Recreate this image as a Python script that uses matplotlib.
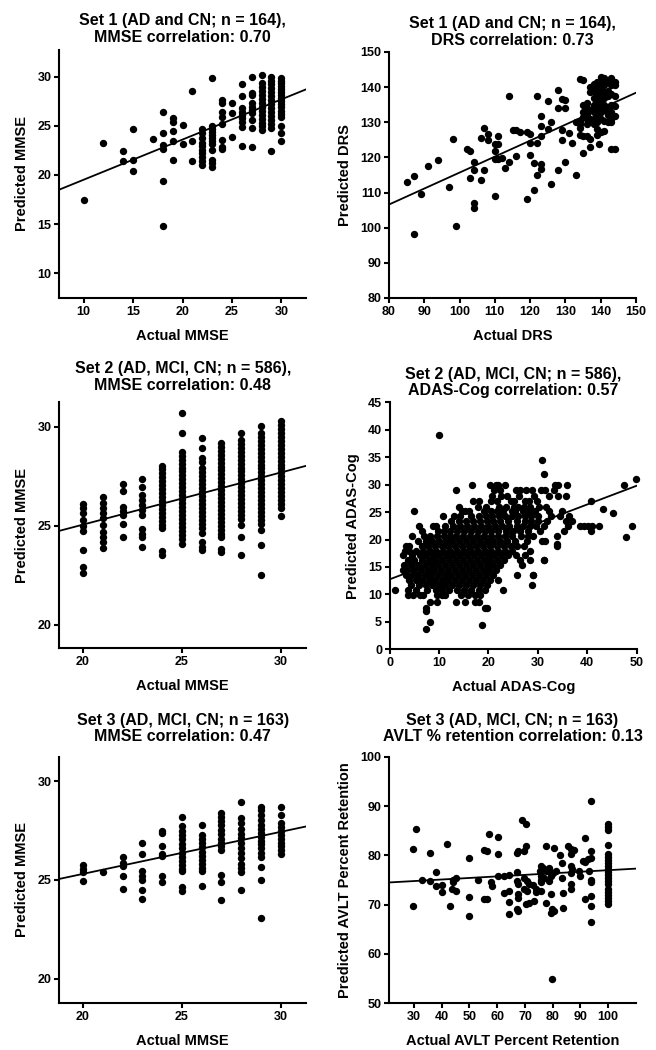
import matplotlib
matplotlib.use("Agg")
import matplotlib.pyplot as plt
import numpy as np

plt.rcParams['font.family'] = ['Liberation Sans', 'DejaVu Sans']
plt.rcParams['font.weight'] = 'bold'

# ---- Set 1 MMSE (actual is integer, predicted values per column)
s1_mmse_actual = [10, 12, 14, 15, 17, 18, 19, 20, 21, 22, 23, 24, 25, 26, 27, 28, 29, 30]
s1_mmse_pred = [
    [17.5],
    [23.2],
    [22.4, 21.4],
    [24.7, 21.5, 20.4],
    [23.7],
    [26.4, 24.3, 23.05, 22.6, 19.35, 14.85],
    [25.8, 25.4, 24.5, 23.5, 21.5],
    [25.1, 23.15],
    [28.5, 23.5, 21.4],
    [24.7, 24.3, 23.8, 23.3, 22.9, 22.55, 22.2, 21.85, 21.45, 21.0],
    [29.9, 25.0, 24.7, 24.4, 24.1, 23.8, 23.5, 23.1, 22.5, 21.5, 21.2, 20.85],
    [27.6, 27.3, 26.4, 25.9, 25.2, 23.6, 22.8, 22.6],
    [27.35, 26.3, 23.9],
    [29.2, 28.0, 26.8, 26.45, 26.1, 25.8, 25.4, 24.9, 22.95],
    [30.0, 28.3, 28.15, 27.3, 26.95, 26.6, 26.25, 25.6, 24.75, 22.8],
    [30.15, 29.3, 28.9, 28.5, 28.1, 27.7, 27.3, 26.9, 26.5, 26.1, 25.7, 25.3, 24.95, 24.6],
    [30.0, 29.6, 29.2, 28.8, 28.4, 28.0, 27.6, 27.2, 26.8, 26.4, 26.0, 25.6, 25.2, 24.8, 22.4],
    [29.9, 29.6, 29.3, 29.0, 28.7, 28.4, 28.1, 27.8, 27.5, 27.2, 26.9, 26.5, 26.2, 25.9, 25.0, 24.3, 23.5],
]
s1_mmse_fit = (0.408, 15.44)

# ---- Set 1 DRS: scattered points plus the dense cluster at high scores
s1_drs_actual = [85, 87, 87, 89, 91, 94, 97, 98, 99, 102, 103, 103, 104, 104, 104, 104,
                 106, 106, 107, 108, 108, 107, 110, 110, 110, 110, 111, 111, 111, 112,
                 114, 113, 114, 115, 116, 117, 116, 119, 120, 119, 120, 120, 121, 122,
                 122, 123, 123, 123, 122, 123, 123, 121, 125, 125, 126, 126, 128, 128,
                 129, 130, 130, 129, 129, 128, 130, 131, 132, 133, 133, 134, 135, 135,
                 137, 137, 139.5, 140, 139, 143, 144]
s1_drs_pred = [113.0, 114.8, 98.3, 109.5, 117.6, 119.3, 111.6, 125.2, 100.4, 122.3, 121.7,
               114.2, 118.6, 116.5, 107.0, 105.5, 125.6, 113.7, 128.3, 126.8, 125.0, 116.5,
               123.9, 121.8, 119.6, 109.1, 126.2, 123.9, 119.6, 119.9, 137.4, 117.0, 118.7,
               127.7, 127.7, 127.2, 120.3, 127.2, 126.8, 108.3, 124.1, 120.6, 118.4, 124.1,
               137.4, 131.7, 129.0, 126.0, 114.9, 118.0, 116.7, 110.8, 136.0, 128.1, 130.0,
               112.5, 139.3, 134.1, 136.5, 136.2, 134.1, 127.7, 124.9, 116.5, 118.7, 127.0,
               124.1, 114.9, 130.1, 142.3, 141.9, 121.4, 125.3, 123.0, 123.9, 127.2, 126.3,
               122.5, 122.5]
s1_drs_cluster_actual = [134, 135, 136, 137, 138, 139, 140, 141, 142, 143, 144]
s1_drs_cluster_pred = [
    [130.5, 129.5, 128.5, 126.5],
    [135.0, 133.0, 131.5, 126.0],
    [135.5, 134.0, 132.0, 131.0, 129.5, 126.0],
    [140.0, 138.5, 133.5, 131.0],
    [141.0, 139.0, 137.0, 135.0, 133.0, 131.0, 129.5],
    [141.5, 140.0, 138.0, 136.0, 134.0, 132.0, 130.0, 128.0],
    [143.0, 141.5, 139.5, 138.0, 136.5, 134.5, 133.0, 131.0],
    [142.5, 140.5, 138.5, 137.0, 135.0, 133.5, 130.5, 127.5],
    [141.8, 139.0, 137.5, 134.0, 132.0, 130.0],
    [142.5, 140.5, 138.0, 135.0, 133.0, 131.0, 130.0],
    [141.5, 140.5, 137.5, 134.5, 131.8],
]
s1_drs_fit = (0.4545, 70.24)

# ---- Set 2 MMSE
s2_mmse_actual = [20, 21, 22, 23, 24, 25, 26, 27, 28, 29, 30]
s2_mmse_pred = [
    [26.1, 25.9, 25.65, 25.3, 25.0, 24.75, 23.8, 22.9, 22.6],
    [26.45, 26.15, 25.9, 25.65, 25.4, 25.05, 24.7, 24.45, 24.2, 23.9],
    [27.1, 26.75, 25.95, 25.75, 25.55, 25.1, 24.45],
    [27.35, 26.95, 26.55, 26.3, 26.05, 25.8, 25.55, 24.85, 24.6, 24.45, 23.95],
    [28.05, 27.85, 27.65, 27.45, 27.25, 27.05, 26.85, 26.65, 26.45, 26.25, 26.05, 25.85,
     25.65, 25.45, 25.25, 25.05, 24.9, 23.7, 23.5],
    [30.7, 29.7, 28.75, 28.55, 28.35, 28.15, 27.95, 27.75, 27.55, 27.35, 27.15, 26.95,
     26.75, 26.55, 26.35, 26.15, 25.95, 25.75, 25.55, 25.35, 25.15, 24.95, 24.75, 24.55,
     24.35, 24.1],
    [29.45, 28.95, 28.45, 28.25, 27.9, 27.7, 27.5, 27.3, 27.1, 26.9, 26.7, 26.5, 26.3,
     26.1, 25.9, 25.7, 25.5, 25.3, 25.1, 24.9, 24.65, 24.2, 23.95, 23.8],
    [29.2, 29.0, 28.8, 28.6, 28.4, 28.2, 28.0, 27.8, 27.6, 27.4, 27.2, 27.0, 26.8, 26.6,
     26.4, 26.2, 26.0, 25.8, 25.6, 25.4, 25.2, 25.0, 24.8, 24.6, 24.45, 23.85, 23.65],
    [29.7, 29.35, 29.15, 28.95, 28.75, 28.55, 28.35, 28.15, 27.95, 27.75, 27.55, 27.35,
     27.15, 26.95, 26.75, 26.55, 26.35, 26.15, 25.95, 25.75, 25.55, 25.35, 25.05, 24.45,
     23.5],
    [30.05, 29.7, 29.5, 29.3, 29.1, 28.9, 28.7, 28.5, 28.3, 28.1, 27.9, 27.7, 27.5, 27.3,
     27.1, 26.9, 26.7, 26.5, 26.3, 26.1, 25.9, 25.7, 25.5, 25.3, 25.1, 24.8, 24.05, 22.5],
    [30.3, 30.1, 29.9, 29.7, 29.5, 29.3, 29.1, 28.9, 28.7, 28.5, 28.3, 28.1, 27.9, 27.7,
     27.5, 27.3, 27.1, 26.9, 26.7, 26.5, 26.3, 26.1, 25.9, 25.5],
]
s2_mmse_fit = (0.2635, 19.79)

# ---- Set 2 ADAS-Cog, stored as rows of predicted value with actual scores
s2_adas_rows = [30.0, 29.0, 28.0, 27.0, 26.0, 25.2, 24.3, 23.3, 22.5, 21.6, 20.7, 19.8,
                18.9, 18.0, 17.1, 16.2, 15.3, 14.4, 13.5, 12.6, 11.7, 10.8, 9.9, 8.6, 7.6]
s2_adas_actual = [
    [16.6, 20.3, 21.5, 22.0, 23.3, 33.4, 34.0, 35.8],
    [13.5, 21.2, 22.3, 25.5, 26.4, 27.6, 28.8, 30.6, 31.5, 33.3],
    [20.8, 22.5, 23.7, 26.2, 29.2, 32.2, 34.0, 35.6],
    [16.8, 18.0, 20.5, 21.8, 24.5, 25.1, 27.4, 28.1, 29.8, 40.8],
    [14.0, 17.9, 19.5, 22.2, 23.6, 25.1, 26.0, 27.2, 28.5, 30.2, 31.7],
    [5.0, 14.6, 15.3, 16.0, 19.0, 20.6, 21.8, 23.0, 24.8, 25.3, 27.0, 28.2, 29.5, 32.3, 34.8],
    [10.8, 13.0, 14.3, 16.5, 18.1, 19.4, 20.7, 22.1, 23.4, 24.7, 26.0, 27.3, 28.6, 30.0,
     32.6, 34.5, 36.2],
    [12.4, 14.0, 15.5, 16.8, 18.2, 19.6, 21.0, 22.4, 24.0, 25.8, 27.3, 28.6, 30.0, 31.8,
     35.7, 37.0],
    [6.0, 8.8, 9.3, 11.2, 12.8, 14.2, 15.6, 17.0, 18.5, 19.9, 21.3, 22.7, 24.2, 25.7, 27.0,
     28.5, 29.6, 31.2, 36.0, 38.5, 39.3, 40.2, 41.0, 42.3],
    [6.5, 9.8, 11.0, 12.3, 13.6, 15.0, 16.4, 17.8, 19.2, 20.6, 22.0, 23.5, 25.0, 26.4,
     28.0, 30.5, 35.2, 40.8],
    [4.5, 7.0, 8.2, 9.6, 10.9, 12.2, 13.5, 14.9, 16.3, 17.7, 19.1, 20.5, 21.9, 23.3, 24.7,
     26.5, 28.0, 29.0, 33.9],
    [5.8, 7.3, 8.6, 9.9, 11.3, 12.6, 14.0, 15.4, 16.8, 18.2, 19.6, 21.0, 22.4, 23.8, 25.3,
     27.8, 30.8, 31.5],
    [3.2, 4.0, 6.5, 7.8, 9.1, 10.5, 11.9, 13.3, 14.7, 16.1, 17.5, 18.9, 20.3, 21.7, 23.1,
     24.5, 25.8, 27.1, 33.9],
    [3.0, 3.9, 5.3, 6.8, 8.1, 9.4, 10.8, 12.2, 13.6, 15.0, 16.4, 17.8, 19.2, 20.6, 22.0,
     23.4, 24.8, 28.5],
    [2.7, 4.5, 6.1, 7.4, 8.7, 10.0, 11.4, 12.8, 14.2, 15.6, 17.0, 18.4, 19.8, 21.2, 22.6,
     24.0, 25.5, 27.4],
    [3.8, 5.0, 6.6, 7.9, 9.2, 10.6, 12.0, 13.4, 14.8, 16.2, 17.6, 19.0, 20.4, 21.8, 23.2,
     26.4, 28.3, 31.2],
    [2.8, 4.4, 5.7, 7.2, 8.5, 9.8, 11.2, 12.6, 14.0, 15.4, 16.8, 18.2, 19.6, 21.0, 22.4,
     26.8],
    [2.6, 3.6, 5.0, 6.4, 7.7, 9.0, 10.4, 11.8, 13.2, 14.6, 16.0, 17.4, 18.8, 20.2, 21.6],
    [3.3, 4.6, 5.8, 7.1, 8.4, 9.7, 11.1, 12.5, 13.9, 15.3, 16.7, 18.1, 19.5, 20.9, 25.8,
     29.1],
    [3.9, 5.3, 6.6, 7.9, 9.2, 10.5, 11.9, 13.3, 14.7, 16.1, 17.5, 18.9, 20.3, 22.0],
    [4.4, 6.0, 7.4, 8.6, 9.9, 11.2, 12.6, 14.0, 15.4, 16.8, 18.2, 19.6, 28.8],
    [1.0, 3.8, 5.3, 7.5, 9.3, 10.6, 12.0, 13.6, 15.0, 16.4, 18.0, 19.2, 23.0],
    [3.7, 4.7, 6.1, 6.8, 9.5, 10.5, 11.1, 14.5, 15.8, 17.2, 18.3],
    [8.1, 9.5, 13.5, 15.2, 17.2, 18.1],
    [7.3, 19.3, 19.6],
]
s2_adas_extra_actual = [10.0, 30.8, 31.2, 47.5, 49.8, 49.1, 47.8, 43.2, 45.2, 33.9,
                        31.2, 29.0, 7.3, 8.2, 7.3, 18.6]
s2_adas_extra_pred = [39.0, 34.5, 31.9, 30.0, 31.1, 22.4, 20.4, 25.5, 24.9, 19.2,
                      16.3, 13.6, 3.7, 5.0, 6.9, 4.5]
s2_adas_fit = (0.341, 12.75)

# ---- Set 3 MMSE
s3_mmse_actual = [20, 21, 22, 23, 24, 25, 26, 27, 28, 29, 30]
s3_mmse_pred = [
    [25.75, 25.55, 25.4, 24.95],
    [25.4],
    [26.15, 25.85, 25.7, 25.2, 24.55],
    [26.9, 26.3, 25.45, 25.2, 25.0, 24.5, 24.05],
    [27.5, 27.4, 26.7, 26.3, 26.2, 25.2, 24.9],
    [28.2, 27.75, 27.5, 27.3, 27.1, 26.8, 26.6, 26.35, 26.15, 25.95, 25.75, 25.55, 25.45,
     24.65, 24.45],
    [27.8, 27.3, 27.1, 26.9, 26.65, 26.4, 26.2, 26.0, 25.8, 25.6, 25.45, 24.7],
    [28.4, 28.2, 28.0, 27.8, 27.55, 27.35, 27.1, 26.9, 26.7, 26.5, 25.25, 24.9, 24.0],
    [28.95, 28.15, 27.9, 27.6, 27.35, 27.15, 26.9, 26.6, 26.35, 26.1, 25.8, 25.6, 25.4,
     24.5],
    [28.7, 28.55, 28.3, 28.05, 27.8, 27.6, 27.4, 27.2, 27.0, 26.8, 26.6, 26.35, 26.15,
     25.65, 25.0, 23.05],
    [28.7, 28.3, 27.9, 27.7, 27.5, 27.3, 27.1, 26.9, 26.7, 26.5, 26.3],
]
s3_mmse_fit = (0.213, 21.05)

# ---- Set 3 AVLT percent retention
s3_avlt_actual = [29.6, 30.8, 29.6, 32.8, 35.9, 35.9, 37.8, 37.8, 40.0, 40.0, 42.0, 43.0,
                  44.1, 45.0, 44.1, 43.8, 45.0, 50.0, 50.0, 50.0, 53.1, 55.2, 56.4, 55.2,
                  56.4, 57.2, 57.9, 58.2, 60.2, 60.2, 60.2, 62.4, 64.2, 62.4, 64.2, 64.2,
                  64.4, 67.2, 67.4, 67.2, 67.2, 67.4, 67.4, 67.4, 67.2, 67.4, 69.0, 70.2,
                  69.6, 70.4, 69.6, 70.8, 69.6, 70.8, 71.4, 70.2, 71.4, 72.8, 73.8, 73.4,
                  73.8, 75.6, 75.6, 75.3, 75.6, 75.6, 75.6, 77.4, 77.4, 76.6, 77.8, 78.7,
                  79.3, 80.0, 77.0, 78.5, 79.5, 79.8, 79.5, 80.4, 79.8, 80.6, 81.0, 82.5,
                  83.4, 83.6, 83.6, 83.4, 85.4, 86.4, 86.7, 86.7, 87.0, 86.7, 86.4, 86.7,
                  87.6, 89.4, 90.0, 90.8, 91.8, 92.7, 91.8, 91.8, 93.7, 93.7, 93.7, 93.0,
                  93.7, 93.7, 93.7, 93.7, 93.7]
s3_avlt_pred = [81.35, 85.4, 69.7, 75.0, 80.5, 74.8, 76.7, 73.8, 73.9, 72.6, 82.4, 69.7,
                75.1, 75.5, 74.6, 73.1, 72.8, 79.5, 71.6, 67.7, 75.0, 81.1, 80.9, 71.2,
                71.2, 84.3, 74.6, 73.8, 83.7, 80.2, 75.9, 75.9, 76.1, 72.4, 72.8, 70.5,
                68.2, 80.5, 80.9, 76.6, 74.8, 74.1, 72.1, 71.4, 69.1, 68.7, 87.2, 86.3,
                80.9, 81.9, 75.5, 74.8, 73.1, 72.8, 74.1, 70.1, 70.4, 73.9, 73.2, 70.7,
                72.5, 72.8, 77.8, 76.8, 75.8, 75.0, 74.5, 81.8, 70.4, 77.5, 76.9, 77.5,
                75.8, 76.5, 75.5, 74.8, 72.1, 69.1, 68.4, 68.7, 55.0, 81.4, 76.8, 80.0,
                75.5, 72.4, 69.4, 78.4, 81.8, 81.2, 80.2, 77.8, 77.2, 76.4, 74.1, 73.1,
                81.1, 76.8, 75.8, 78.9, 78.6, 79.2, 83.6, 71.2, 91.0, 80.9, 79.5, 76.8,
                75.0, 74.5, 71.8, 69.7, 66.4]
s3_avlt_full_pred = [86.3, 85.8, 85.2, 82.0, 80.2, 79.6, 79.0, 78.4, 77.8, 77.2, 76.6,
                     76.0, 75.4, 74.8, 74.2, 73.2, 72.6, 72.0, 71.4, 70.8, 70.1]  # actual = 100
s3_avlt_fit = (0.0315, 73.84)


def expand(xs, cols):
    px, py = [], []
    for x, ys in zip(xs, cols):
        px += [x] * len(ys)
        py += ys
    return px, py


def style(ax, title, xlabel, ylabel, xlim, ylim, xticks, yticks, pad):
    for s in ['top', 'right']:
        ax.spines[s].set_visible(False)
    for s in ['left', 'bottom']:
        ax.spines[s].set_linewidth(1.5)
    ax.set_xlim(*xlim)
    ax.set_ylim(*ylim)
    ax.set_xticks(xticks)
    ax.set_yticks(yticks)
    ax.tick_params(direction='out', length=3.5, width=1.5, labelsize=9, pad=2)
    for lab in ax.get_xticklabels() + ax.get_yticklabels():
        lab.set_fontweight('bold')
    ax.set_title(title, fontsize=11.5, fontweight='bold', pad=pad, linespacing=1.15)
    ax.set_xlabel(xlabel, fontsize=10.5, fontweight='bold', labelpad=8)
    ax.set_ylabel(ylabel, fontsize=10.5, fontweight='bold', labelpad=6)


def scatter_fit(ax, x, y, fit, xlim):
    ax.plot(x, y, 'o', color='black', markersize=5.3, markeredgewidth=0, clip_on=False)
    xx = np.array(xlim)
    ax.plot(xx, fit[0] * xx + fit[1], color='black', linewidth=1.3)


fig = plt.figure(figsize=(6.56, 10.5), dpi=100)
W = 247 / 656

# Set 1 MMSE
ax1 = fig.add_axes([59 / 656, 1 - 298 / 1050, W, 248 / 1050])
x, y = expand(s1_mmse_actual, s1_mmse_pred)
scatter_fit(ax1, x, y, s1_mmse_fit, (7.5, 32.5))
style(ax1, 'Set 1 (AD and CN; n = 164),\nMMSE correlation: 0.70', 'Actual MMSE',
      'Predicted MMSE', (7.5, 32.5), (7.5, 32.7), [10, 15, 20, 25, 30],
      [10, 15, 20, 25, 30], 6)

# Set 1 DRS
ax2 = fig.add_axes([389 / 656, 1 - 298 / 1050, W, 246 / 1050])
cx, cy = expand(s1_drs_cluster_actual, s1_drs_cluster_pred)
scatter_fit(ax2, s1_drs_actual + cx, s1_drs_pred + cy, s1_drs_fit, (80, 150))
style(ax2, 'Set 1 (AD and CN; n = 164),\nDRS correlation: 0.73', 'Actual DRS',
      'Predicted DRS', (80, 150), (80, 150), range(80, 151, 10), range(80, 151, 10), 5)

# Set 2 MMSE
ax3 = fig.add_axes([59.3 / 656, 1 - 648.3 / 1050, W, 246 / 1050])
x, y = expand(s2_mmse_actual, s2_mmse_pred)
scatter_fit(ax3, x, y, s2_mmse_fit, (18.8, 31.3))
style(ax3, 'Set 2 (AD, MCI, CN; n = 586),\nMMSE correlation: 0.48', 'Actual MMSE',
      'Predicted MMSE', (18.8, 31.3), (18.8, 31.25), [20, 25, 30], [20, 25, 30], 9)

# Set 2 ADAS-Cog
ax4 = fig.add_axes([389.7 / 656, 1 - 649.3 / 1050, W, 247 / 1050])
ya, xa = expand(s2_adas_rows, s2_adas_actual)
scatter_fit(ax4, xa + s2_adas_extra_actual, ya + s2_adas_extra_pred, s2_adas_fit, (0, 50))
style(ax4, 'Set 2 (AD, MCI, CN; n = 586),\nADAS-Cog correlation: 0.57', 'Actual ADAS-Cog',
      'Predicted ADAS-Cog', (0, 50), (0, 45), range(0, 51, 10), range(0, 46, 5), 5)

# Set 3 MMSE
ax5 = fig.add_axes([59.3 / 656, 1 - 1003.3 / 1050, W, 246.6 / 1050])
x, y = expand(s3_mmse_actual, s3_mmse_pred)
scatter_fit(ax5, x, y, s3_mmse_fit, (18.8, 31.3))
style(ax5, 'Set 3 (AD, MCI, CN; n = 163)\nMMSE correlation: 0.47', 'Actual MMSE',
      'Predicted MMSE', (18.8, 31.3), (18.75, 31.25), [20, 25, 30], [20, 25, 30], 11)

# Set 3 AVLT
ax6 = fig.add_axes([389 / 656, 1 - 1003.3 / 1050, W, 246.6 / 1050])
scatter_fit(ax6, s3_avlt_actual + [100] * len(s3_avlt_full_pred),
            s3_avlt_pred + s3_avlt_full_pred, s3_avlt_fit, (21, 110))
style(ax6, 'Set 3 (AD, MCI, CN; n = 163)\nAVLT % retention correlation: 0.13',
      'Actual AVLT Percent Retention', 'Predicted AVLT Percent Retention',
      (21, 110), (50, 100), range(30, 101, 10), range(50, 101, 10), 11)

fig.savefig('out.png', dpi=100)
